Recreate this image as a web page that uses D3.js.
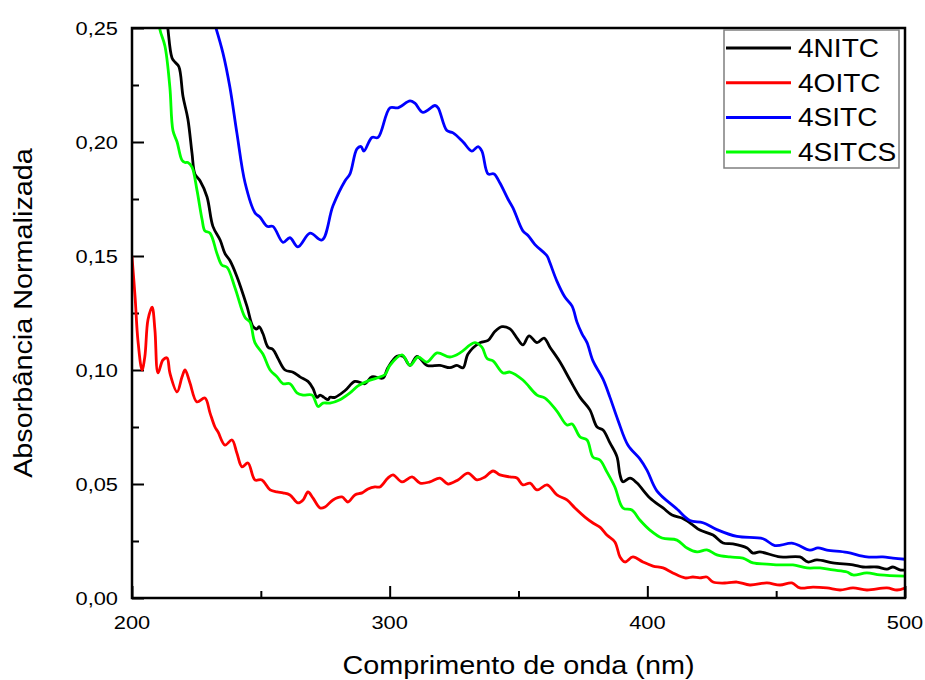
<!DOCTYPE html>
<html>
<head>
<meta charset="utf-8">
<script src="https://cdn.jsdelivr.net/npm/d3@7/dist/d3.min.js"></script>
<style>
  html, body { margin: 0; padding: 0; background: #fff; }
  svg { display: block; font-family: "Liberation Sans", Arial, sans-serif; }
</style>
</head>
<body>
<svg id="chart" width="925" height="680"></svg>
<script>
// UV-Vis spectra: wavelength (nm) vs normalised absorbance
const seriesNames = ["4NITC", "4OITC", "4SITC", "4SITCS"];
const seriesColors = ["#000000", "#ff0000", "#0000ff", "#00ff00"];

const xTickValues = [200, 300, 400, 500];
const xMinorTicks = [250, 350, 450];
const yTickValues = [0, 0.05, 0.10, 0.15, 0.20, 0.25];
const yMinorTicks = [0.025, 0.075, 0.125, 0.175, 0.225];

const s4NITC = [
  [213.6,0.254],[214.0,0.249],[215.5,0.237],[216.7,0.235],[218.2,0.233],[219.8,0.220],[221.7,0.210],
  [223.3,0.195],[224.4,0.186],[226.4,0.183],[229.1,0.176],[231.4,0.163],[234.2,0.157],[236.1,0.151],
  [238.0,0.148],[240.7,0.141],[244.6,0.128],[247.0,0.119],[248.5,0.118],[249.3,0.119],[250.8,0.116],
  [252.8,0.110],[254.7,0.109],[256.7,0.105],[259.4,0.100],[262.5,0.099],[265.2,0.097],[268.3,0.095],
  [270.2,0.092],[271.8,0.088],[273.0,0.089],[274.5,0.088],[276.1,0.087],[276.8,0.088],[278.8,0.088],
  [282.7,0.091],[286.5,0.095],[290.4,0.094],[293.1,0.097],[297.4,0.0965],[299.3,0.101],[302.8,0.106],
  [305.2,0.106],[307.9,0.102],[310.6,0.106],[314.5,0.102],[319.5,0.102],[323.4,0.101],[326.1,0.102],
  [328.5,0.101],[330.4,0.107],[335.1,0.112],[338.2,0.113],[340.9,0.117],[343.6,0.119],[346.7,0.118],
  [349.4,0.114],[351.7,0.111],[354.1,0.115],[357.2,0.112],[359.9,0.114],[362.2,0.110],[366.1,0.1035],
  [370.0,0.0956],[373.9,0.088],[377.7,0.0825],[380.5,0.075],[382.8,0.0737],[385.5,0.068],[388.2,0.062],
  [389.4,0.054],[390.5,0.051],[393.3,0.0526],[396.0,0.0504],[401.0,0.0439],[406.1,0.0395],[409.6,0.0364],
  [413.4,0.0351],[415.4,0.0338],[417.7,0.032],[420.4,0.0298],[425.5,0.0276],[429.4,0.0241],[433.2,0.0237],
  [438.7,0.0219],[441.0,0.0197],[443.7,0.0202],[451.5,0.018],[459.2,0.018],[462.3,0.0158],[465.8,0.0167],
  [472.0,0.0154],[479.8,0.0145],[483.7,0.0136],[489.1,0.0136],[493.0,0.0127],[495.3,0.0136],[498.0,0.0123],
  [500.0,0.0123]
];

const s4OITC = [
  [200.0,0.1496],[201.2,0.132],[202.3,0.113],[203.9,0.100],[205.0,0.106],[206.2,0.122],[207.8,0.1276],
  [208.9,0.1175],[210.1,0.0987],[212.0,0.1044],[213.6,0.1053],[214.7,0.0987],[217.5,0.0904],[219.4,0.0969],
  [220.6,0.100],[222.5,0.0943],[225.2,0.086],[228.3,0.0877],[230.3,0.0811],[232.2,0.075],[233.4,0.0728],
  [236.1,0.0671],[238.8,0.0693],[240.7,0.0636],[242.7,0.0575],[245.0,0.0592],[247.7,0.0518],[250.4,0.0518],
  [253.6,0.0474],[256.3,0.0465],[258.6,0.0461],[261.3,0.0452],[264.4,0.0417],[266.4,0.043],[268.3,0.0465],
  [270.2,0.0439],[273.0,0.0395],[274.9,0.0399],[278.0,0.043],[281.5,0.0443],[283.8,0.0421],[286.5,0.0452],
  [289.3,0.0461],[291.6,0.0478],[294.3,0.0487],[296.2,0.0487],[299.3,0.0526],[301.3,0.054],[304.8,0.0509],
  [308.7,0.0531],[311.8,0.0504],[315.6,0.0509],[319.5,0.0526],[322.6,0.050],[326.5,0.0518],[330.4,0.0548],
  [333.9,0.0518],[337.0,0.0531],[340.1,0.0557],[342.8,0.054],[346.7,0.0531],[349.4,0.0526],[351.7,0.0496],
  [354.5,0.0504],[357.2,0.0474],[361.1,0.0496],[364.9,0.0452],[368.8,0.043],[371.9,0.0395],[375.8,0.0355],
  [378.9,0.0329],[381.6,0.0311],[384.3,0.0276],[387.4,0.0246],[389.4,0.018],[391.3,0.0158],[394.4,0.018],
  [398.3,0.0158],[402.2,0.014],[406.1,0.0132],[409.9,0.011],[414.6,0.0088],[417.7,0.0092],[420.4,0.0088],
  [423.1,0.0092],[425.5,0.007],[430.9,0.0066],[434.8,0.007],[439.8,0.0057],[446.4,0.0066],[451.5,0.0057],
  [456.1,0.0066],[459.2,0.0044],[464.3,0.0048],[469.7,0.0044],[474.8,0.0035],[479.8,0.0044],[485.2,0.0035],
  [493.0,0.0044],[496.9,0.0035],[500.0,0.0044]
];

const s4SITC = [
  [231.5,0.254],[235.3,0.239],[238.0,0.224],[240.7,0.204],[243.9,0.182],[247.7,0.169],[249.7,0.167],
  [252.4,0.163],[254.7,0.163],[258.6,0.156],[261.3,0.158],[264.4,0.154],[269.1,0.160],[273.7,0.157],
  [278.0,0.172],[282.7,0.183],[284.6,0.186],[287.3,0.197],[288.9,0.198],[290.0,0.196],[293.1,0.202],
  [295.5,0.202],[300.1,0.215],[303.2,0.215],[307.9,0.218],[309.8,0.217],[312.9,0.213],[317.6,0.216],
  [318.8,0.215],[322.2,0.205],[324.6,0.204],[328.5,0.200],[331.9,0.196],[334.3,0.198],[335.8,0.196],
  [338.2,0.186],[340.5,0.186],[342.8,0.182],[345.9,0.175],[347.9,0.171],[351.7,0.161],[353.7,0.159],
  [356.4,0.155],[361.1,0.150],[362.2,0.147],[364.9,0.139],[368.0,0.132],[370.8,0.128],[372.7,0.121],
  [374.6,0.116],[376.6,0.112],[378.9,0.104],[382.8,0.096],[385.5,0.088],[388.6,0.078],[392.5,0.067],
  [397.1,0.061],[399.9,0.056],[403.7,0.047],[411.5,0.039],[416.5,0.034],[421.6,0.033],[427.0,0.030],
  [434.8,0.027],[444.9,0.026],[449.5,0.023],[456.5,0.024],[463.1,0.021],[466.2,0.022],[469.7,0.021],
  [477.5,0.020],[485.2,0.018],[491.4,0.018],[495.3,0.0175],[500.0,0.017]
];

const s4SITCS = [
  [210.4,0.254],[210.9,0.249],[212.8,0.242],[214.7,0.224],[215.9,0.205],[217.5,0.200],[219.4,0.192],
  [220.6,0.191],[221.7,0.191],[223.3,0.189],[225.2,0.179],[227.2,0.166],[228.3,0.161],[230.3,0.160],
  [233.0,0.151],[234.9,0.146],[236.9,0.145],[240.0,0.136],[243.9,0.123],[245.8,0.121],[247.7,0.112],
  [250.8,0.107],[253.6,0.100],[256.3,0.097],[258.6,0.094],[261.3,0.094],[264.0,0.090],[266.4,0.089],
  [269.9,0.089],[272.2,0.084],[274.1,0.0855],[276.8,0.0855],[280.7,0.087],[284.6,0.090],[287.7,0.093],
  [291.2,0.095],[295.1,0.0965],[298.2,0.098],[300.1,0.102],[304.8,0.1066],[307.9,0.102],[311.0,0.1057],
  [314.5,0.1035],[318.4,0.1075],[323.4,0.1057],[327.3,0.1075],[331.2,0.111],[333.1,0.112],[335.8,0.110],
  [337.8,0.105],[340.1,0.104],[344.0,0.0987],[346.7,0.0991],[351.7,0.0956],[357.2,0.089],[360.3,0.0877],
  [364.9,0.082],[368.8,0.0759],[370.8,0.0763],[373.9,0.0706],[376.6,0.0693],[378.9,0.0618],[381.6,0.0605],
  [384.3,0.0553],[387.4,0.0487],[390.5,0.0395],[394.0,0.0386],[397.1,0.0342],[401.0,0.0298],[405.7,0.0263],
  [411.5,0.0254],[415.4,0.0219],[419.3,0.0202],[423.1,0.0211],[427.0,0.0189],[432.1,0.018],[437.1,0.0175],
  [441.0,0.0154],[446.4,0.0149],[451.5,0.0145],[456.5,0.0145],[462.0,0.0132],[467.0,0.0132],[472.0,0.0123],
  [477.5,0.0114],[479.8,0.0101],[485.2,0.011],[490.3,0.0101],[500.0,0.0096]
];

const seriesData = [s4NITC, s4OITC, s4SITC, s4SITCS];

const margin = { left: 132, top: 28, right: 20, bottom: 82 };
const W = 925, H = 680;
const plotW = 905 - margin.left;
const plotH = 598 - margin.top;

const svg = d3.select("#chart");
const g = svg.append("g").attr("transform", `translate(${margin.left},${margin.top})`);

const x = d3.scaleLinear().domain([200, 500]).range([0, plotW]);
const y = d3.scaleLinear().domain([0, 0.25]).range([plotH, 0]);

const fmt = d3.formatLocale({ decimal: ",", thousands: ".", grouping: [3], currency: ["", ""] }).format(".2f");

g.append("clipPath").attr("id", "plot-clip")
  .append("rect").attr("x", 0).attr("y", 0).attr("width", plotW).attr("height", plotH);

// inward ticks, major and minor
function styleAxis(sel) {
  sel.select(".domain").remove();
  sel.selectAll(".tick line").attr("stroke", "#000").attr("stroke-width", 2);
  sel.selectAll(".tick text").remove();
}
g.append("g").attr("transform", `translate(0,${plotH})`)
  .call(d3.axisBottom(x).tickValues(xTickValues).tickSize(-12)).call(styleAxis);
g.append("g").attr("transform", `translate(0,${plotH})`)
  .call(d3.axisBottom(x).tickValues(xMinorTicks).tickSize(-7)).call(styleAxis);
g.append("g")
  .call(d3.axisLeft(y).tickValues(yTickValues).tickSize(-12)).call(styleAxis);
g.append("g")
  .call(d3.axisLeft(y).tickValues(yMinorTicks).tickSize(-7)).call(styleAxis);

// tick labels (slightly wide glyphs)
xTickValues.forEach(v => {
  g.append("g").attr("transform", `translate(${x(v)},${plotH + 31})`)
    .append("text").attr("transform", "scale(1.18,1)")
    .attr("text-anchor", "middle").attr("font-size", 18.5).attr("fill", "#000")
    .text(String(v));
});
yTickValues.forEach(v => {
  g.append("g").attr("transform", `translate(-14,${y(v) + 6.5})`)
    .append("text").attr("transform", "scale(1.18,1)")
    .attr("text-anchor", "end").attr("font-size", 18.5).attr("fill", "#000")
    .text(fmt(v));
});

// curves
const line = d3.line()
  .x(d => x(d[0])).y(d => y(d[1]))
  .curve(d3.curveCatmullRom.alpha(0.5));

const curves = g.append("g").attr("clip-path", "url(#plot-clip)");
seriesData.forEach((data, i) => {
  curves.append("path").datum(data)
    .attr("fill", "none")
    .attr("stroke", seriesColors[i])
    .attr("stroke-width", 2.8)
    .attr("stroke-linejoin", "round")
    .attr("stroke-linecap", "round")
    .attr("d", line);
});

// frame
g.append("rect").attr("x", 0).attr("y", 0).attr("width", plotW).attr("height", plotH)
  .attr("fill", "none").attr("stroke", "#000").attr("stroke-width", 2.5);

// legend
const lg = svg.append("g").attr("transform", "translate(724,30)");
lg.append("rect").attr("x", 0).attr("y", 0).attr("width", 175).attr("height", 138)
  .attr("fill", "#fff").attr("stroke", "#7f7f7f").attr("stroke-width", 1.5);
seriesNames.forEach((name, i) => {
  const cy = 18 + i * 34.7;
  lg.append("line").attr("x1", 2).attr("x2", 67).attr("y1", cy).attr("y2", cy)
    .attr("stroke", seriesColors[i]).attr("stroke-width", 3);
  lg.append("g").attr("transform", `translate(74,${cy + 9})`)
    .append("text").attr("transform", "scale(1.1,1)")
    .attr("font-size", 25.5).attr("fill", "#000").text(name);
});

// axis titles
svg.append("g").attr("transform", `translate(${margin.left + plotW / 2},674)`)
  .append("text").attr("transform", "scale(1.13,1)")
  .attr("text-anchor", "middle").attr("font-size", 25.5).attr("fill", "#000")
  .text("Comprimento de onda (nm)");
svg.append("g").attr("transform", `translate(32,${margin.top + plotH / 2}) rotate(-90)`)
  .append("text").attr("transform", "scale(1.13,1)")
  .attr("text-anchor", "middle").attr("font-size", 25.5).attr("fill", "#000")
  .text("Absorbância Normalizada");
</script>
</body>
</html>
